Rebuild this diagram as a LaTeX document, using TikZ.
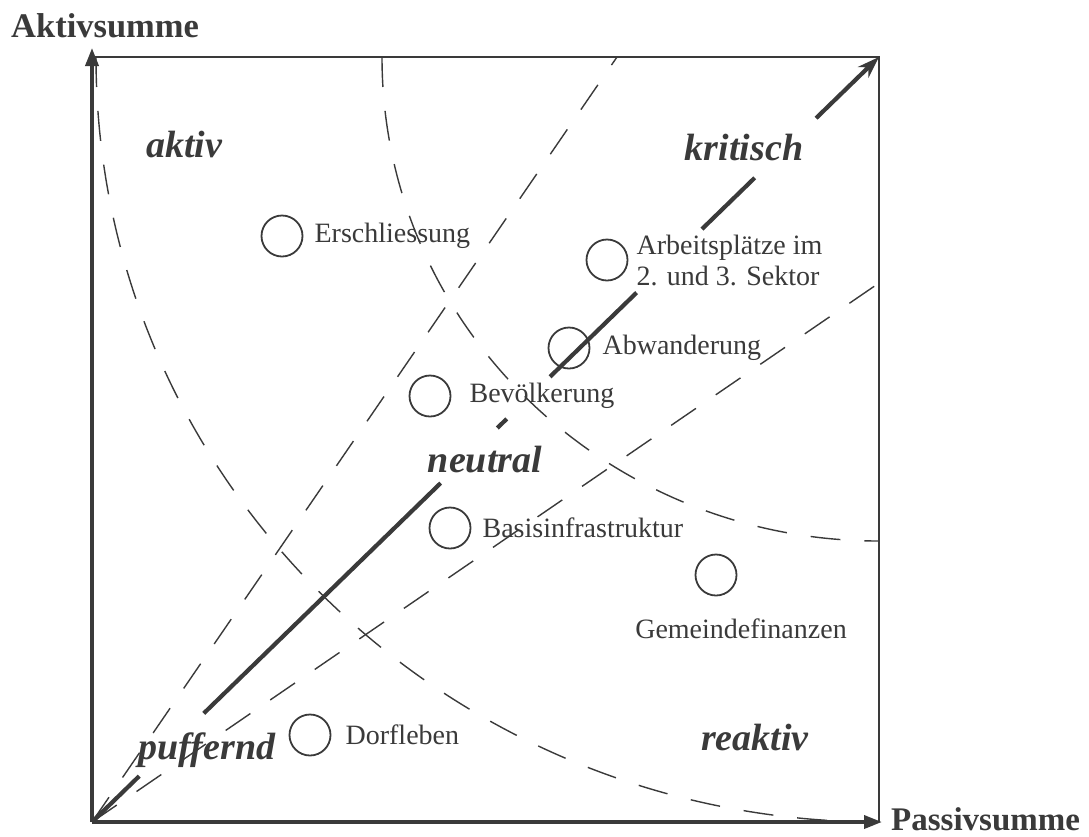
\documentclass[tikz,border=0pt]{standalone}
\usepackage{fontspec}
\setmainfont{Liberation Serif}
\usepackage{tikz}
\usetikzlibrary{arrows.meta,positioning,calc}
\definecolor{ink}{HTML}{3A3A3A}

\begin{document}
\begin{tikzpicture}[x=1pt, y=-1pt, color=ink,
  spot/.style={circle, draw, line width=1.8pt, minimum size=41pt, inner sep=0pt},
  lbl/.style={font=\fontsize{28}{31}\selectfont, inner sep=0pt},
  region/.style={font=\fontsize{38}{42}\selectfont\bfseries\itshape, inner sep=0pt},
  axislbl/.style={font=\fontsize{34.5}{38}\selectfont\bfseries, inner sep=0pt},
  axis/.style={line width=3.6pt, -{Triangle[length=18pt,width=13pt]}},
  guide/.style={line width=1.4pt, dash pattern=on 30pt off 24pt},
  trend/.style={line width=4.2pt}]
  \useasboundingbox (0,0) rectangle (1089,836);

  \coordinate (O) at (92,822);
  \coordinate (TR) at (879,57);

  \draw[line width=1.8pt] (92,57) -- (TR) -- (879,822);
  \draw[axis] (O) -- (92,48);
  \draw[axis] (O) -- (882,822);

  \draw[guide] (O) -- (617,57);
  \draw[guide] (O) -- (879,283);
  \draw[guide] (96,57) arc[start angle=180, end angle=90, x radius=783, y radius=765];
  \draw[guide] (382,57) arc[start angle=180, end angle=90, x radius=497, y radius=484];

  \foreach \a/\b in {0/0.06, 0.142/0.443, 0.515/0.527, 0.582/0.692, 0.775/0.842}
    \draw[trend] ($(O)!\a!(TR)$) -- ($(O)!\b!(TR)$);
  \draw[trend, -{Stealth[length=22pt,width=15pt]}] ($(O)!0.92!(TR)$) -- (TR);

  \node[axislbl, anchor=base west] (aktsum) at (11,37) {Aktivsumme};
  \node[axislbl, anchor=base west, font=\fontsize{33}{36}\selectfont\bfseries] (passum) at (891,830) {Passivsumme};

  \node[region] (aktiv) at (184,145) {aktiv};
  \node[region] (krit) at (744,147) {kritisch};
  \node[region] (neutral) at (485,460) {neutral};
  \node[region] (puff) at (207,750) {puffernd};
  \node[region] (reakt) at (755,737) {reaktiv};

  \node[spot] (ersch) at (282,236) {};
  \node[lbl, right=11pt of ersch] {Erschliessung};
  \node[spot] (arbeit) at (607,260) {};
  \node[lbl, right=8pt of arbeit, align=left] {Arbeitsplätze im\\2. und 3. Sektor};
  \node[spot] (abwand) at (569,348) {};
  \node[lbl, right=12pt of abwand] {Abwanderung};
  \node[spot] (bevoelk) at (430,396) {};
  \node[lbl, right=18pt of bevoelk] {Bevölkerung};
  \node[spot] (basis) at (450,528) {};
  \node[lbl, right=11pt of basis] {Basisinfrastruktur};
  \node[spot] (gemfin) at (716,575) {};
  \node[lbl, below=22pt of gemfin, xshift=25pt] {Gemeindefinanzen};
  \node[spot] (dorf) at (310,735) {};
  \node[lbl, right=14pt of dorf] {Dorfleben};
\end{tikzpicture}
\end{document}
